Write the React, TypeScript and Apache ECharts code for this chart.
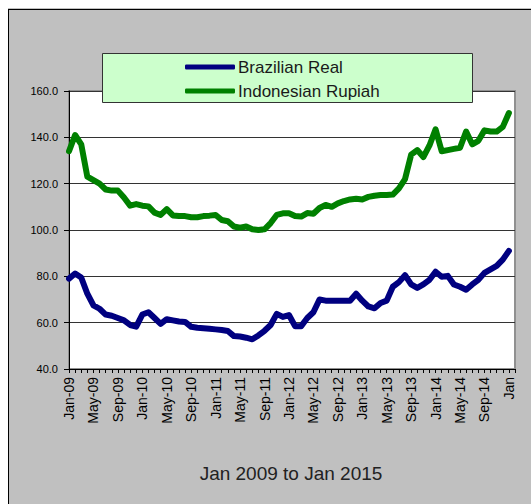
import React, { useEffect, useRef } from "react";
import * as echarts from "echarts";

const monthNames = ["Jan", "Feb", "Mar", "Apr", "May", "Jun", "Jul", "Aug", "Sep", "Oct", "Nov", "Dec"];
const years = ["09", "10", "11", "12", "13", "14", "15"];
// Jan-09 .. Feb-15 (the axis runs one month past the last point)
const categories: string[] = [];
years.forEach((y) => monthNames.forEach((m) => categories.push(`${m}-${y}`)));
categories.splice(74);

const lastLabelIndex = 72;
const lastLabelText = "Jan";

const brazilianReal = [
  79, 81.2, 79.5, 72.5, 67.5, 66, 63.5, 63, 62, 61, 59, 58.3,
  63.5, 64.5, 62, 59.5, 61.5, 61, 60.5, 60.3, 58.2, 57.8, 57.6, 57.4,
  57.1, 56.8, 56.4, 54.2, 54, 53.5, 52.8, 54.5, 56.5, 59, 63.8, 62.5,
  63.3, 58.5, 58.5, 62, 64.5, 70, 69.5, 69.5, 69.5, 69.5, 69.5, 72.5,
  69.5, 67, 66.2, 68.5, 69.5, 75.5, 77.5, 80.5, 76.5, 75, 76.5, 78.5,
  82, 79.8, 80.2, 76.5, 75.5, 74.2, 76.5, 78.5, 81.5, 83, 84.5, 87.2,
  91,
];

const indonesianRupiah = [
  134, 141, 137, 123, 121.5, 120, 117.5, 117, 117, 114, 110.5, 111.2,
  110.5, 110.2, 107.5, 106.5, 109, 106.3, 106, 106, 105.5, 105.5, 106, 106.2,
  106.5, 104.3, 103.8, 101.5, 101, 101.5, 100.3, 100, 100.3, 103, 106.5, 107.2,
  107.2, 106, 105.8, 107.3, 107, 109.5, 110.8, 110, 111.5, 112.5, 113.2, 113.5,
  113.2, 114.3, 114.8, 115.1, 115.1, 115.3, 118, 122, 132.5, 134.5, 131.5, 136.5,
  143.5, 134, 134.5, 135, 135.5, 142.5, 137, 138.5, 143, 142.5, 142.5, 144.5,
  150.5,
];

const seriesNames = ["Brazilian Real", "Indonesian Rupiah"];
const seriesColors = ["#000080", "#008000"];
const chartTitle = "Jan 2009 to Jan 2015";

const FONT = "'Liberation Sans', Arial, sans-serif";

export default function App() {
  const ref = useRef<HTMLDivElement>(null);

  useEffect(() => {
    if (!ref.current) return;
    const chart = echarts.init(ref.current, undefined, { renderer: "svg" });
    chart.setOption({
      animation: false,
      backgroundColor: "#c0c0c0",
      grid: {
        left: 61,
        right: 16,
        top: 83,
        bottom: 135,
        show: true,
        backgroundColor: "#ffffff",
        borderColor: "#909090",
        borderWidth: 2,
      },
      legend: {
        orient: "vertical",
        left: 177,
        top: 49,
        padding: 0,
        itemGap: 4,
        itemWidth: 50,
        itemHeight: 5,
        icon: "roundRect",
        z: 10,
        data: seriesNames,
        textStyle: {
          fontFamily: FONT,
          fontSize: 17,
          lineHeight: 20,
          color: "#1a1a1a",
          padding: [0, 0, 0, -2],
        },
      },
      graphic: [
        {
          type: "line",
          shape: { x1: 0.5, y1: 1, x2: 0.5, y2: 600 },
          style: { stroke: "#000", lineWidth: 1 },
          z: 20,
        },
        {
          type: "line",
          shape: { x1: 0, y1: 1.5, x2: 600, y2: 1.5 },
          style: { stroke: "#000", lineWidth: 1 },
          z: 20,
        },
        {
          type: "rect",
          shape: { x: 94.5, y: 45.5, width: 370, height: 49 },
          style: { fill: "#ccffcc", stroke: "#333333", lineWidth: 1 },
          z: 5,
        },
        {
          type: "text",
          x: 283,
          y: 465,
          style: {
            text: chartTitle,
            font: `19px ${FONT}`,
            fill: "#222222",
            textAlign: "center",
            textVerticalAlign: "middle",
          },
          z: 20,
        },
      ],
      xAxis: {
        type: "category",
        data: categories,
        boundaryGap: false,
        axisLine: { show: true, lineStyle: { color: "#000", width: 1 } },
        axisTick: { show: true, interval: 0, length: 4, lineStyle: { color: "#000" } },
        axisLabel: {
          interval: 3,
          rotate: 90,
          margin: 8,
          fontFamily: FONT,
          fontSize: 14,
          color: "#000",
          formatter: (v: string, i: number) => (i === lastLabelIndex ? lastLabelText : v),
        },
        splitLine: { show: false },
      },
      yAxis: {
        type: "value",
        min: 40,
        max: 160,
        interval: 20,
        axisLine: { show: true, lineStyle: { color: "#000", width: 1 } },
        axisTick: { show: true, length: 5, lineStyle: { color: "#000" } },
        axisLabel: {
          margin: 11,
          fontFamily: FONT,
          fontSize: 11,
          color: "#000",
          formatter: (v: number) => v.toFixed(1),
        },
        splitLine: { show: true, lineStyle: { color: "#333333", width: 1 } },
      },
      series: [
        {
          name: seriesNames[0],
          type: "line",
          data: brazilianReal,
          symbol: "none",
          color: seriesColors[0],
          lineStyle: { width: 6, color: seriesColors[0], cap: "round", join: "round" },
        },
        {
          name: seriesNames[1],
          type: "line",
          data: indonesianRupiah,
          symbol: "none",
          color: seriesColors[1],
          lineStyle: { width: 6, color: seriesColors[1], cap: "round", join: "round" },
        },
      ],
    });
    return () => chart.dispose();
  }, []);

  return (
    <div
      ref={ref}
      style={{ position: "fixed", left: 8, top: 8, width: 523, height: 496 }}
    />
  );
}
